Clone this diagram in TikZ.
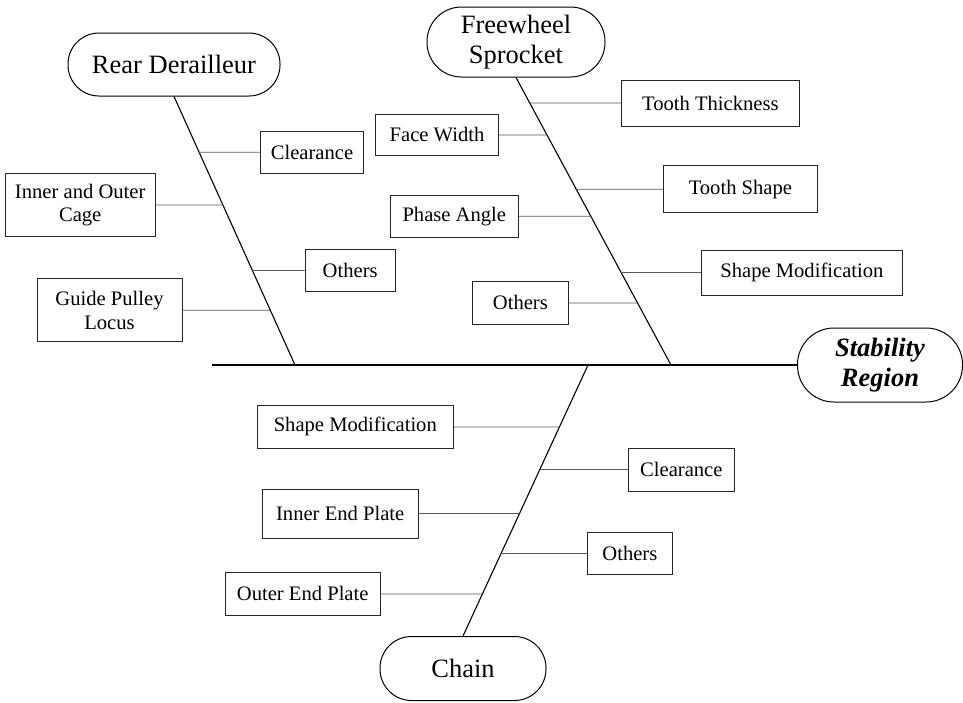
\documentclass[tikz,border=0pt]{standalone}
\usepackage{fontspec}
\setmainfont{Liberation Serif}
\begin{document}
\begin{tikzpicture}[x=1pt,y=-1pt,
  box/.style={draw=black!85, line width=0.9pt, inner sep=0pt, align=center,
    font=\fontsize{20.6}{23.5}\selectfont},
  oval/.style={draw=black, line width=1pt, inner sep=0pt, align=center,
    font=\fontsize{26.5}{30.5}\selectfont},
  spine/.style={draw=black, line width=1.1pt},
  branch/.style={draw=black!65, line width=0.8pt},
  mainline/.style={draw=black, line width=2.2pt}]
\useasboundingbox (0,0) rectangle (963,702);

% heads
\node[oval, minimum width=212pt, minimum height=63pt, rounded corners=31pt] (rd) at (174,64.5) {Rear Derailleur};
\node[oval, minimum width=178pt, minimum height=70pt, rounded corners=34.5pt] (fw) at (516,42) {Freewheel\\Sprocket};
\node[oval, minimum width=165pt, minimum height=74pt, rounded corners=36.5pt] (st) at (880,365) {\textbf{\textit{Stability}}\\\textbf{\textit{Region}}};
\node[oval, minimum width=166pt, minimum height=64pt, rounded corners=31.5pt] (ch) at (463,668.5) {Chain};

% spine coordinates
\coordinate (mainL) at (212,365);
\coordinate (rdt) at (rd.south);
\coordinate (rdb) at (295,365);
\coordinate (fwt) at (fw.south);
\coordinate (fwb) at (671,365);
\coordinate (cht) at (588,365);
\coordinate (chb) at (ch.north);

\draw[mainline] (mainL) -- (st.west);
\draw[spine] (rdt) -- (rdb);
\draw[spine] (fwt) -- (fwb);
\draw[spine] (cht) -- (chb);

% rear derailleur causes
\node[box, minimum width=102.6pt, minimum height=42.3pt] (cla) at (312,152.2) {Clearance};
\node[box, minimum width=149.7pt, minimum height=63.4pt] (ioc) at (80.2,205) {Inner and Outer\\Cage};
\node[box, minimum width=90.3pt, minimum height=42.4pt] (otha) at (350.2,270.5) {Others};
\node[box, minimum width=145pt, minimum height=63pt] (gpl) at (109.5,310.2) {Guide Pulley\\Locus};

% freewheel causes
\node[box, minimum width=177.7pt, minimum height=46pt] (tt) at (710.4,103) {Tooth Thickness};
\node[box, minimum width=123pt, minimum height=41.7pt] (fwd) at (437,134.9) {Face Width};
\node[box, minimum width=153.2pt, minimum height=47pt] (ts) at (740.4,189.2) {Tooth Shape};
\node[box, minimum width=128.5pt, minimum height=42.3pt] (pa) at (454.3,216.2) {Phase Angle};
\node[box, minimum width=200.8pt, minimum height=45pt] (sma) at (801.9,272.5) {Shape Modification};
\node[box, minimum width=96.2pt, minimum height=42.3pt] (othb) at (520.4,302.9) {Others};

% chain causes
\node[box, minimum width=196.5pt, minimum height=43.7pt] (smb) at (355.3,426.9) {Shape Modification};
\node[box, minimum width=106.1pt, minimum height=43pt] (clb) at (681.3,469.5) {Clearance};
\node[box, minimum width=155.7pt, minimum height=49pt] (iep) at (340.2,513.5) {Inner End Plate};
\node[box, minimum width=84.2pt, minimum height=42.4pt] (othc) at (629.9,553.5) {Others};
\node[box, minimum width=154.7pt, minimum height=42.3pt] (oep) at (302.7,593.9) {Outer End Plate};

% branches
\draw[branch] (cla.west) -- (intersection of rdt--rdb and cla.west--cla.east);
\draw[branch] (ioc.east) -- (intersection of rdt--rdb and ioc.west--ioc.east);
\draw[branch] (otha.west) -- (intersection of rdt--rdb and otha.west--otha.east);
\draw[branch] (gpl.east) -- (intersection of rdt--rdb and gpl.west--gpl.east);

\draw[branch] (tt.west) -- (intersection of fwt--fwb and tt.west--tt.east);
\draw[branch] (fwd.east) -- (intersection of fwt--fwb and fwd.west--fwd.east);
\draw[branch] (ts.west) -- (intersection of fwt--fwb and ts.west--ts.east);
\draw[branch] (pa.east) -- (intersection of fwt--fwb and pa.west--pa.east);
\draw[branch] (sma.west) -- (intersection of fwt--fwb and sma.west--sma.east);
\draw[branch] (othb.east) -- (intersection of fwt--fwb and othb.west--othb.east);

\draw[branch] (smb.east) -- (intersection of cht--chb and smb.west--smb.east);
\draw[branch] (clb.west) -- (intersection of cht--chb and clb.west--clb.east);
\draw[branch] (iep.east) -- (intersection of cht--chb and iep.west--iep.east);
\draw[branch] (othc.west) -- (intersection of cht--chb and othc.west--othc.east);
\draw[branch] (oep.east) -- (intersection of cht--chb and oep.west--oep.east);
\end{tikzpicture}
\end{document}
